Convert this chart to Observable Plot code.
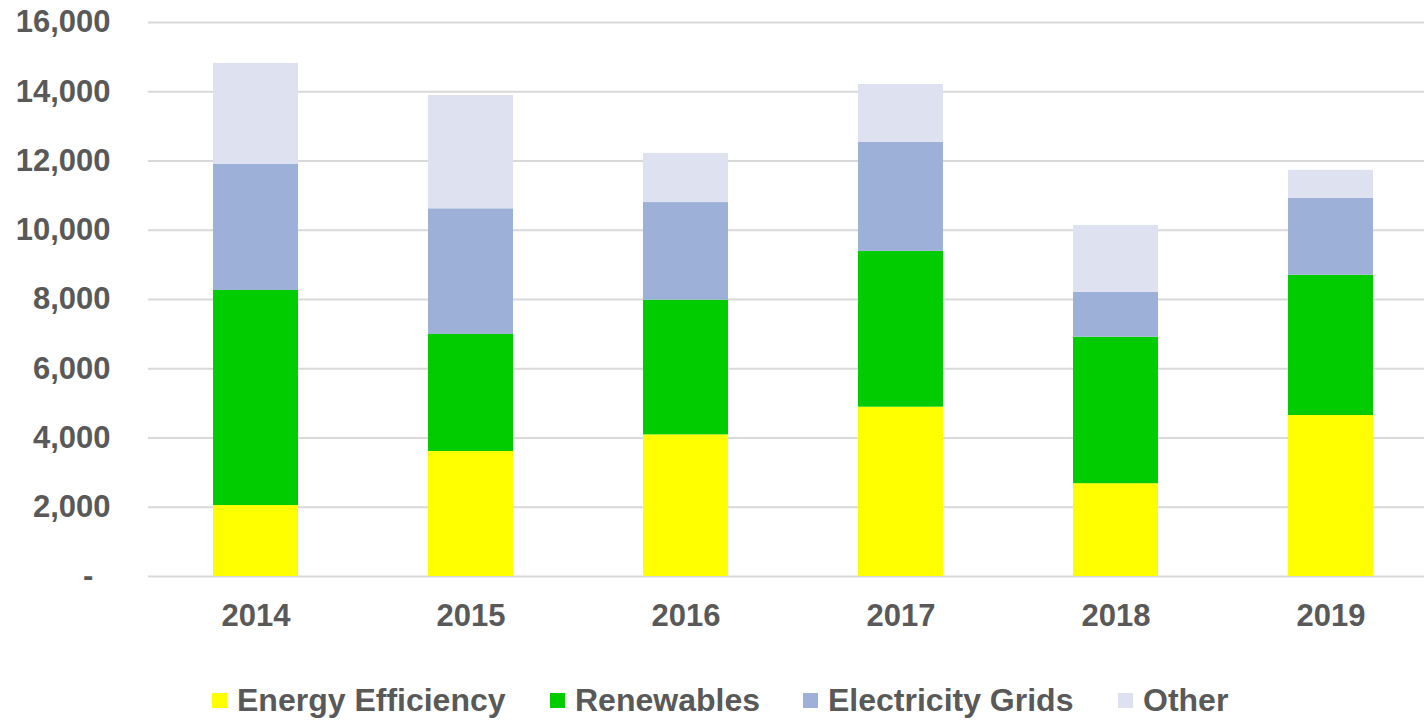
<!DOCTYPE html>
<html>
<head>
<meta charset="utf-8">
<script src="https://cdn.jsdelivr.net/npm/d3@7"></script>
<script src="https://cdn.jsdelivr.net/npm/@observablehq/plot@0.6"></script>
<style>
  html, body { margin: 0; padding: 0; background: #fff; overflow: hidden; }
  #chart { width: 1424px; }
  .legend { display: flex; align-items: center; height: 40px; margin-top: 40px;
    font-family: "Liberation Sans", Arial, sans-serif; font-weight: bold; font-size: 32px; color: #595959; }
  .item { display: flex; align-items: center; position: absolute; }
  .sw { width: 15px; height: 15px; margin-right: 10px; }
</style>
</head>
<body>
<div id="chart"></div>
<script>
const years = ["2014", "2015", "2016", "2017", "2018", "2019"];
const seriesNames = ["Energy Efficiency", "Renewables", "Electricity Grids", "Other"];
const energyEfficiency = [2050, 3610, 4090, 4890, 2680, 4650];
const renewables = [6210, 3380, 3890, 4500, 4230, 4050];
const electricityGrids = [3650, 3630, 2820, 3150, 1300, 2220];
const other = [2910, 3270, 1420, 1670, 1930, 810];
const colors = ["#ffff00", "#00cc00", "#9db1d8", "#dde1f0"];
const yTicks = [0, 2000, 4000, 6000, 8000, 10000, 12000, 14000, 16000];

const seriesValues = [energyEfficiency, renewables, electricityGrids, other];
const table = [];
years.forEach((yr, i) => {
  seriesNames.forEach((s, j) => table.push({year: yr, series: s, value: seriesValues[j][i]}));
});

const fmt = d3.format(",");
const plot = Plot.plot({
  width: 1424,
  height: 640,
  marginLeft: 148,
  marginRight: -14,
  marginTop: 22,
  marginBottom: 64,
  style: {fontFamily: "'Liberation Sans', Arial, sans-serif", fontSize: "31px", fontWeight: "bold", color: "#595959", background: "#fff"},
  x: {domain: years, paddingInner: 0.605, paddingOuter: 0.3025, label: null},
  y: {domain: [0, 16000], ticks: yTicks, label: null},
  color: {domain: seriesNames, range: colors},
  marks: [
    Plot.gridY(yTicks, {stroke: "#d9d9d9", strokeOpacity: 1, strokeWidth: 2}),
    Plot.barY(table, Plot.stackY({x: "year", y: "value", fill: "series", z: "series"})),
    Plot.axisY(yTicks, {tickSize: 0, tickPadding: 38, tickFormat: d => d === 0 ? "-\u00a0\u00a0" : fmt(d), label: null}),
    Plot.axisX({tickSize: 0, tickPadding: 27, label: null})
  ]
});
document.getElementById("chart").appendChild(plot);

const legend = document.createElement("div");
legend.className = "legend";
legend.style.position = "relative";
const lefts = [212, 550, 803, 1118];
seriesNames.forEach((s, j) => {
  const it = document.createElement("div");
  it.className = "item";
  it.style.left = lefts[j] + "px";
  const sw = document.createElement("span");
  sw.className = "sw";
  sw.style.background = colors[j];
  const tx = document.createElement("span");
  tx.textContent = s;
  it.appendChild(sw); it.appendChild(tx);
  legend.appendChild(it);
});
document.getElementById("chart").appendChild(legend);
</script>
</body>
</html>
